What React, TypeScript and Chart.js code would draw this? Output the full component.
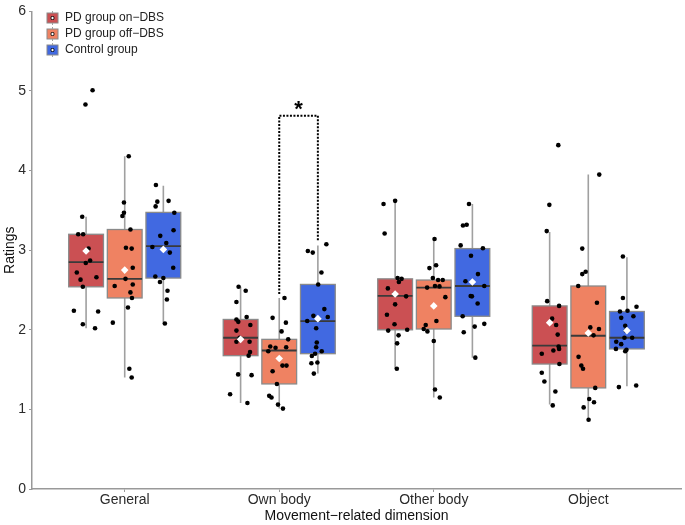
import { useEffect, useRef } from 'react';
import { Chart, registerables } from 'chart.js';
Chart.register(...registerables);

const categories = ['General', 'Own body', 'Other body', 'Object'];
const groupNames = ['PD group on\u2212DBS', 'PD group off\u2212DBS', 'Control group'];
const groupColors = ['#CB5053', '#EF8262', '#4169E1'];
const yTicks = [0, 1, 2, 3, 4, 5, 6];

// box statistics per group, per category
const onQ1 = [2.54, 1.675, 2.0, 1.57];
const onMed = [2.85, 1.9, 2.425, 1.8];
const onQ3 = [3.2, 2.13, 2.64, 2.3];
const onLo = [2.02, 1.08, 1.51, 1.06];
const onHi = [3.42, 2.54, 3.62, 3.23];
const onMean = [2.99, 1.88, 2.45, 2.09];

const offQ1 = [2.4, 1.32, 2.01, 1.27];
const offMed = [2.64, 1.74, 2.53, 1.925];
const offQ3 = [3.26, 1.88, 2.625, 2.55];
const offLo = [1.4, 1.01, 1.15, 0.87];
const offHi = [4.18, 2.4, 3.14, 3.95];
const offMean = [2.75, 1.64, 2.3, 1.96];

const ctlQ1 = [2.65, 1.7, 2.17, 1.76];
const ctlMed = [3.05, 2.11, 2.55, 1.9];
const ctlQ3 = [3.475, 2.57, 3.02, 2.23];
const ctlLo = [2.07, 1.45, 1.65, 1.29];
const ctlHi = [3.81, 3.06, 3.58, 2.91];
const ctlMean = [3.01, 2.14, 2.6, 1.99];

// individual ratings (per category) and their horizontal jitter
const onVals = [
  [5.01, 4.83, 3.42, 3.2, 3.2, 3.02, 2.84, 2.87, 2.72, 2.66, 2.63, 2.54, 2.24, 2.23, 2.07, 2.02],
  [2.54, 2.49, 2.35, 2.16, 2.13, 2.1, 2.06, 1.99, 1.9, 1.85, 1.85, 1.72, 1.675, 1.44, 1.43, 1.19, 1.08],
  [3.58, 3.62, 3.21, 2.65, 2.64, 2.6, 2.52, 2.45, 2.42, 2.32, 2.19, 2.07, 1.99, 2.0, 1.93, 1.83, 1.51],
  [4.32, 3.57, 3.24, 2.36, 2.3, 2.14, 2.06, 1.94, 1.79, 1.76, 1.74, 1.7, 1.57, 1.46, 1.35, 1.225, 1.05],
];
const onJit = [
  [0.042, -0.004, -0.025, -0.051, -0.019, 0.016, -0.002, 0.026, -0.06, 0.067, -0.036, -0.021, -0.079, 0.078, -0.021, 0.058],
  [-0.013, 0.033, -0.027, 0.039, -0.027, -0.015, 0.063, -0.027, -0.006, -0.027, 0.058, 0.061, 0.052, -0.016, 0.071, -0.068, 0.044],
  [-0.075, 0, -0.068, 0.016, 0.042, 0.024, -0.047, -0.004, 0.071, 0, -0.053, -0.004, -0.045, 0.078, 0.022, 0.013, 0.011],
  [0.056, -0.002, -0.019, -0.016, 0.061, 0.016, 0.042, 0.052, 0.058, 0.061, 0.024, -0.051, 0.063, -0.051, -0.034, 0.037, 0.02],
];
const offVals = [
  [4.18, 3.6, 3.47, 3.43, 3.26, 3.03, 3.02, 2.78, 2.64, 2.57, 2.55, 2.47, 2.4, 2.28, 2.09, 1.51, 1.4],
  [2.4, 2.15, 2.09, 1.98, 1.88, 1.79, 1.775, 1.78, 1.73, 1.55, 1.55, 1.48, 1.32, 1.17, 1.15, 1.06, 1.01],
  [3.14, 2.775, 2.81, 2.65, 2.625, 2.625, 2.55, 2.545, 2.53, 2.41, 2.11, 2.06, 2.01, 1.98, 1.86, 1.25, 1.15],
  [3.95, 3.02, 2.7, 2.73, 2.55, 2.34, 2.03, 2.01, 1.93, 1.66, 1.55, 1.51, 1.27, 1.13, 1.09, 1.025, 0.87],
];
const offJit = [
  [0.026, -0.005, -0.005, -0.015, 0.037, 0.008, 0.045, 0.052, 0.005, 0.052, -0.065, 0.037, 0.047, 0.021, -0.077, 0.03, 0.045],
  [0.034, -0.043, 0.043, 0.015, 0.058, -0.058, -0.024, 0.045, -0.071, 0.021, 0.047, -0.043, -0.015, -0.065, -0.05, -0.008, 0.024],
  [0.005, -0.028, 0.015, -0.006, 0.028, 0.058, 0.008, 0.037, -0.043, 0.075, 0.017, -0.052, -0.065, -0.041, 0, 0.008, 0.039],
  [0.071, -0.039, -0.039, -0.017, -0.065, 0.056, 0.013, 0.069, 0.034, -0.063, -0.045, -0.034, 0.045, 0.006, 0.037, -0.03, 0.002],
];
const ctlVals = [
  [3.82, 3.61, 3.62, 3.55, 3.47, 3.25, 3.18, 3.09, 3.04, 2.97, 2.78, 2.67, 2.65, 2.6, 2.49, 2.38, 2.08],
  [3.075, 2.99, 2.97, 2.72, 2.57, 2.26, 2.175, 2.16, 2.11, 2.02, 1.84, 1.78, 1.73, 1.7, 1.67, 1.58, 1.59, 1.45],
  [3.58, 3.31, 3.32, 3.06, 3.025, 2.93, 2.7, 2.61, 2.55, 2.425, 2.42, 2.33, 2.17, 2.075, 2.04, 1.97, 1.65],
  [2.92, 2.4, 2.23, 2.24, 2.29, 2.15, 2.17, 2.05, 1.99, 1.9, 1.9, 1.85, 1.82, 1.76, 1.75, 1.73, 1.28, 1.3],
];
const ctlJit = [
  [-0.048, -0.039, 0.034, -0.05, 0.071, 0.066, -0.02, 0.019, -0.071, 0.042, 0.064, -0.052, 0, -0.022, 0.027, 0.023, 0.01],
  [0.055, -0.065, -0.033, 0.023, 0.002, 0.042, -0.029, 0.064, -0.069, -0.011, -0.007, -0.011, 0.025, -0.018, -0.039, -0.042, -0.003, -0.026],
  [-0.022, -0.061, -0.037, -0.076, 0.068, -0.009, 0.036, -0.045, 0.077, -0.011, -0.003, 0.034, -0.063, 0.077, 0.015, -0.056, 0.019],
  [-0.026, -0.026, -0.045, 0.004, 0.062, -0.037, 0.042, -0.011, -0.007, -0.016, 0.034, -0.069, -0.037, -0.071, -0.003, -0.011, -0.052, 0.06],
];

// significance bracket (Own body: off-DBS vs Control)
const sigCategory = 2;
const sigTop = 4.69;
const sigLeftEnd = 2.45;
const sigRightEnd = 3.11;

const dodge = [-0.25, 0, 0.25];
const boxHalf = 0.1125;

const stats = [
  { q1: onQ1, med: onMed, q3: onQ3, lo: onLo, hi: onHi, mean: onMean, vals: onVals, jit: onJit },
  { q1: offQ1, med: offMed, q3: offQ3, lo: offLo, hi: offHi, mean: offMean, vals: offVals, jit: offJit },
  { q1: ctlQ1, med: ctlMed, q3: ctlQ3, lo: ctlLo, hi: ctlHi, mean: ctlMean, vals: ctlVals, jit: ctlJit },
];

const FONT = '"Liberation Sans", Arial, Helvetica, sans-serif';

const boxPlugin = {
  id: 'boxes',
  beforeDatasetsDraw(chart: any) {
    const { ctx, scales } = chart;
    const xs = scales.x;
    const ys = scales.y;
    ctx.save();
    stats.forEach((s, g) => {
      categories.forEach((_, c) => {
        const cx = c + 1 + dodge[g];
        const xl = xs.getPixelForValue(cx - boxHalf);
        const xr = xs.getPixelForValue(cx + boxHalf);
        const xm = xs.getPixelForValue(cx);
        const yq1 = ys.getPixelForValue(s.q1[c]);
        const yq3 = ys.getPixelForValue(s.q3[c]);
        const ymed = ys.getPixelForValue(s.med[c]);
        const ylo = ys.getPixelForValue(s.lo[c]);
        const yhi = ys.getPixelForValue(s.hi[c]);
        // whiskers
        ctx.strokeStyle = '#a0a0a0';
        ctx.lineWidth = 1.6;
        ctx.beginPath();
        ctx.moveTo(xm, yhi);
        ctx.lineTo(xm, yq3);
        ctx.moveTo(xm, yq1);
        ctx.lineTo(xm, ylo);
        ctx.stroke();
        // box
        ctx.fillStyle = groupColors[g];
        ctx.fillRect(xl, yq3, xr - xl, yq1 - yq3);
        ctx.strokeStyle = '#8a8a8a';
        ctx.lineWidth = 1.3;
        ctx.strokeRect(xl, yq3, xr - xl, yq1 - yq3);
        // median
        ctx.strokeStyle = '#3a3a3a';
        ctx.lineWidth = 1.8;
        ctx.beginPath();
        ctx.moveTo(xl, ymed);
        ctx.lineTo(xr, ymed);
        ctx.stroke();
      });
    });
    ctx.restore();
  },
  afterDraw(chart: any) {
    const { ctx, scales } = chart;
    const xs = scales.x;
    const ys = scales.y;
    ctx.save();
    // significance bracket
    const xL = xs.getPixelForValue(sigCategory + dodge[1]);
    const xR = xs.getPixelForValue(sigCategory + dodge[2]);
    const yT = ys.getPixelForValue(sigTop);
    ctx.strokeStyle = '#000';
    ctx.lineWidth = 2;
    ctx.setLineDash([2, 1.5]);
    ctx.beginPath();
    ctx.moveTo(xL, ys.getPixelForValue(sigLeftEnd));
    ctx.lineTo(xL, yT);
    ctx.lineTo(xR, yT);
    ctx.lineTo(xR, ys.getPixelForValue(sigRightEnd));
    ctx.stroke();
    ctx.setLineDash([]);
    ctx.fillStyle = '#000';
    ctx.font = `bold 22px ${FONT}`;
    ctx.textAlign = 'center';
    ctx.textBaseline = 'alphabetic';
    ctx.fillText('*', (xL + xR) / 2, yT - 0);
    // legend
    ctx.font = `12px ${FONT}`;
    ctx.textAlign = 'left';
    ctx.textBaseline = 'middle';
    groupNames.forEach((name, g) => {
      const y = 18 + g * 16;
      ctx.fillStyle = groupColors[g];
      ctx.fillRect(47, y - 5, 11, 10);
      ctx.strokeStyle = '#8a8a8a';
      ctx.lineWidth = 1;
      ctx.strokeRect(47, y - 5, 11, 10);
      ctx.strokeStyle = '#a0a0a0';
      ctx.beginPath();
      ctx.moveTo(52.5, y - 7);
      ctx.lineTo(52.5, y - 5);
      ctx.moveTo(52.5, y + 5);
      ctx.lineTo(52.5, y + 7);
      ctx.stroke();
      ctx.fillStyle = '#000';
      ctx.beginPath();
      ctx.arc(52.5, y, 2, 0, Math.PI * 2);
      ctx.fill();
      ctx.fillStyle = '#fff';
      ctx.beginPath();
      ctx.moveTo(52.5, y - 1.5);
      ctx.lineTo(54, y);
      ctx.lineTo(52.5, y + 1.5);
      ctx.lineTo(51, y);
      ctx.closePath();
      ctx.fill();
      ctx.fillStyle = '#222';
      ctx.fillText(name, 65, y);
    });
    ctx.restore();
  },
};

export default function App() {
  const ref = useRef<HTMLCanvasElement>(null);
  useEffect(() => {
    document.body.style.margin = '0';
    const meanSets = stats.map((s, g) => ({
      label: groupNames[g] + ' mean',
      data: categories.map((_, c) => ({ x: c + 1 + dodge[g], y: s.mean[c] })),
      pointStyle: 'rectRot',
      pointRadius: 3.8,
      backgroundColor: '#ffffff',
      borderColor: '#ffffff',
      borderWidth: 0,
    }));
    const pointSets = stats.map((s, g) => {
      const data: { x: number; y: number }[] = [];
      categories.forEach((_, c) => {
        s.vals[c].forEach((v, i) => {
          data.push({ x: c + 1 + dodge[g] + s.jit[c][i], y: v });
        });
      });
      return {
        label: groupNames[g],
        data,
        pointRadius: 2.3,
        backgroundColor: '#000000',
        borderColor: '#000000',
        borderWidth: 0,
      };
    });
    const chart = new Chart(ref.current!, {
      type: 'scatter',
      data: { datasets: [...meanSets, ...pointSets] as any },
      options: {
        responsive: false,
        animation: false,
        layout: { padding: { top: 9, right: 2, left: 0, bottom: 0 } },
        plugins: { legend: { display: false }, tooltip: { enabled: false } },
        scales: {
          x: {
            type: 'linear',
            min: 0.4,
            max: 4.6,
            afterBuildTicks: (s: any) => {
              s.ticks = categories.map((_, i) => ({ value: i + 1 }));
            },
            afterFit: (s: any) => {
              s.height = 36;
            },
            ticks: {
              autoSkip: false,
              callback: (v: any) => categories[Math.round(Number(v)) - 1] ?? '',
              font: { family: FONT, size: 14 },
              color: '#2a2a2a',
              padding: 0,
              maxRotation: 0,
            },
            grid: { display: true, drawOnChartArea: false, drawTicks: true, tickLength: 3, color: '#999' },
            border: { display: true, color: '#999', width: 1.5 },
            title: {
              display: true,
              text: 'Movement\u2212related dimension',
              font: { family: FONT, size: 14 },
              color: '#111',
              padding: { top: 0, bottom: 0 },
            },
          },
          y: {
            min: 0,
            max: 6,
            afterBuildTicks: (s: any) => {
              s.ticks = yTicks.map((v) => ({ value: v }));
            },
            afterFit: (s: any) => {
              s.width = 32;
            },
            ticks: {
              font: { family: FONT, size: 14 },
              color: '#2a2a2a',
              padding: 3,
            },
            grid: { display: true, drawOnChartArea: false, drawTicks: true, tickLength: 3, color: '#999' },
            border: { display: true, color: '#999', width: 1.5 },
            title: {
              display: true,
              text: 'Ratings',
              font: { family: FONT, size: 14 },
              color: '#111',
              padding: { top: 2, bottom: 0 },
            },
          },
        },
      },
      plugins: [boxPlugin],
    });
    return () => chart.destroy();
  }, []);
  return (
    <div style={{ width: 685, height: 525 }}>
      <canvas ref={ref} width={685} height={525} />
    </div>
  );
}
